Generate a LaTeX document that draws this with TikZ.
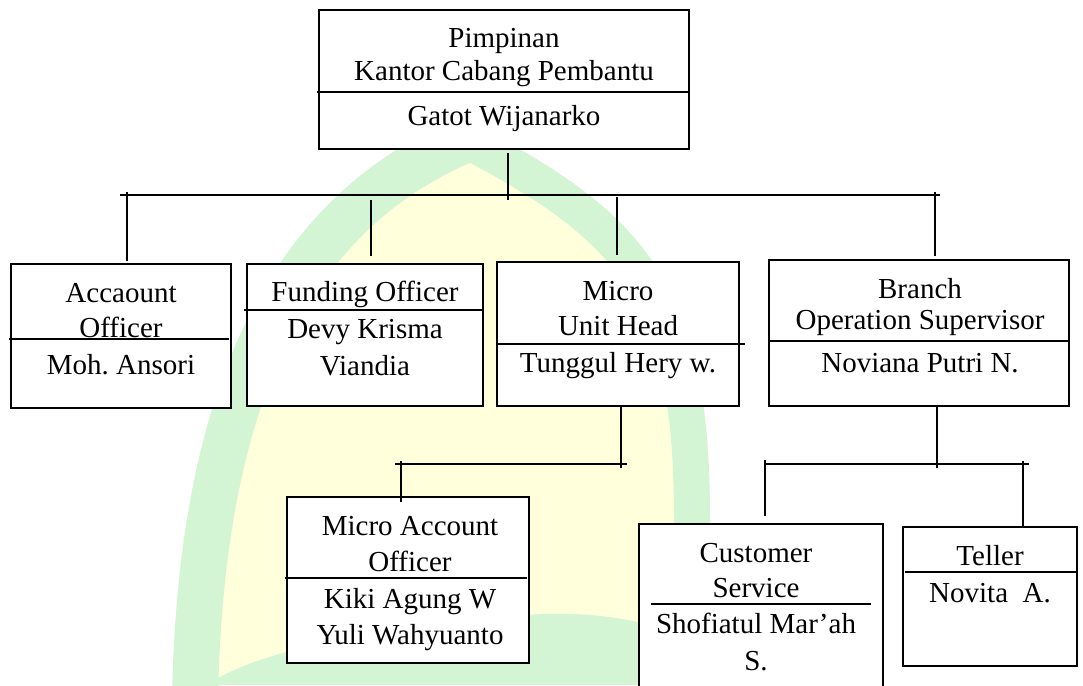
\documentclass[tikz,border=0pt]{standalone}
\usepackage{fontspec}
\setmainfont{Liberation Serif}
\usepackage{tikz}
\frenchspacing

\definecolor{wmgreen}{HTML}{D4F5D4}
\definecolor{wmyellow}{HTML}{FFFFDC}

\begin{document}
\begin{tikzpicture}[x=1pt, y=-1pt,
    unit/.style={draw, line width=1.2pt, fill=white, inner sep=0pt},
    lbl/.style={anchor=base, inner sep=0pt, font=\fontsize{29}{34}\selectfont},
    link/.style={line width=1.2pt},
    rule/.style={line width=1.2pt}]
\useasboundingbox (0,0) rectangle (1083,685);

% faint logo behind the chart
\fill[wmyellow] (180,685) .. controls (190,380) and (280,200) .. (465,125)
    .. controls (620,210) and (700,330) .. (700,685) -- cycle;
\draw[wmgreen, line width=46pt] (195,700) .. controls (200,420) and (275,220) .. (465,140);
\draw[wmgreen, line width=36pt] (465,140) .. controls (640,230) and (693,300) .. (692,525);
\fill[wmgreen] (205,685) .. controls (300,630) and (390,645) .. (415,640)
    .. controls (500,605) and (620,605) .. (690,640) -- (690,685) -- cycle;

% boxes
\node[unit, minimum width=370pt, minimum height=139pt] (pimp) at (504,79.5) {};
\node[unit, minimum width=220pt, minimum height=144pt] (acc) at (121,336) {};
\node[unit, minimum width=236pt, minimum height=142pt] (fund) at (365,335) {};
\node[unit, minimum width=242pt, minimum height=144pt] (micro) at (618,334) {};
\node[unit, minimum width=300pt, minimum height=146pt] (branch) at (919,333) {};
\node[unit, minimum width=242pt, minimum height=166pt] (mao) at (408,580) {};
\node[unit, minimum width=244pt, minimum height=176pt] (cs) at (761,612) {};
\node[unit, minimum width=174pt, minimum height=139pt] (teller) at (990,596.5) {};

% lines between job title and name
\draw[rule]
    (317,92) -- (690,92)
    (9,339) -- (229,339)
    (244,310) -- (483,310)
    (497,344) -- (745,344)
    (769,341) -- (1069,341)
    (285,578) -- (527,578)
    (651,604) -- (871,604)
    (905,572) -- (1077,572)
;

% texts
\path
    (504,48) node[lbl] (pimpA) {Pimpinan}
    (504,80) node[lbl] (pimpB) {Kantor Cabang Pembantu}
    (504,125) node[lbl] (pimpN) {Gatot Wijanarko}

    (121,302) node[lbl] (accA) {Accaount}
    (121,337) node[lbl] (accB) {Officer}
    (121,374) node[lbl] (accN) {Moh. Ansori}

    (365,301) node[lbl] (fundA) {Funding Officer}
    (365,338) node[lbl] (fundN) {Devy Krisma}
    (365,375) node[lbl] (fundM) {Viandia}

    (618,300) node[lbl] (microA) {Micro}
    (618,335) node[lbl] (microB) {Unit Head}
    (618,372) node[lbl] (microN) {Tunggul Hery w.}

    (920,298) node[lbl] (branchA) {Branch}
    (920,329) node[lbl] (branchB) {Operation Supervisor}
    (920,372) node[lbl] (branchN) {Noviana Putri N.}

    (410,535) node[lbl] (maoA) {Micro Account}
    (410,571) node[lbl] (maoB) {Officer}
    (410,608) node[lbl] (maoN) {Kiki Agung W}
    (410,644) node[lbl] (maoM) {Yuli Wahyuanto}

    (756,562) node[lbl] (csA) {Customer}
    (756,597) node[lbl] (csB) {Service}
    (756,633) node[lbl] (csN) {Shofiatul Mar’ah}
    (756,670) node[lbl] (csM) {S.}

    (990,565) node[lbl] (tellerA) {Teller}
    (990,602) node[lbl] (tellerN) {Novita\ \ A.}
;

% connectors
\coordinate (busTop) at (120,195);
\coordinate (busTopEnd) at (940,195);
\coordinate (busMicro) at (395,464);
\coordinate (busMicroEnd) at (627,464);
\coordinate (busBranch) at (766,464);
\coordinate (busBranchEnd) at (1029,464);

\draw[link] (busTop) -- (busTopEnd);
\draw[link] ([xshift=4pt,yshift=-3pt]pimp.south) -- ++(0,47);
\draw[link] ([xshift=6pt,yshift=2pt]acc.north) -- ++(0,-69);
\draw[link] ([xshift=6pt,yshift=7pt]fund.north) -- ++(0,-56);
\draw[link] ([xshift=-1pt,yshift=6pt]micro.north) -- ++(0,-58);
\draw[link] ([xshift=16pt,yshift=3pt]branch.north) -- ++(0,-64);

\draw[link] (busMicro) -- (busMicroEnd);
\draw[link] ([xshift=3pt]micro.south) -- ++(0,61);
\draw[link] ([xshift=-7pt,yshift=-6pt]mao.north) -- ++(0,-41);

\draw[link] (busBranch) -- (busBranchEnd);
\draw[link] ([xshift=18pt,yshift=2pt]branch.south) -- ++(0,63);
\draw[link] ([xshift=4pt,yshift=7pt]cs.north) -- ++(0,-56);
\draw[link] ([xshift=33pt]teller.north) -- ++(0,-65);
\end{tikzpicture}
\end{document}
